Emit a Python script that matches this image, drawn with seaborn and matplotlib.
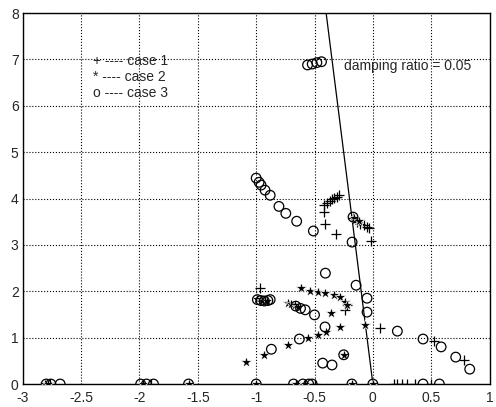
import numpy as np
import pandas as pd
import matplotlib
matplotlib.use('Agg')
import matplotlib.pyplot as plt
import seaborn as sns

# Case 1 (+) roots
case1_x = [-0.415, -0.39, -0.37, -0.35, -0.33, -0.31, -0.29,
           -0.42, -0.41, -0.32, -0.02,
           -0.17, -0.14, -0.11, -0.08, -0.05, -0.03,
           -0.97, -0.24, -0.22, 0.06, 0.52, 0.78,
           0.18, 0.21, 0.25, 0.29, 0.36, 0.50, 0.0, -0.5, -1.9, -2.77]
case1_y = [3.86, 3.90, 3.95, 3.98, 4.01, 4.04, 4.07,
           3.71, 3.45, 3.23, 3.08,
           3.57, 3.50, 3.46, 3.42, 3.39, 3.36,
           2.07, 1.59, 1.70, 1.21, 0.92, 0.52,
           0, 0, 0, 0, 0, 0, 0, 0, 0, 0]

# Case 2 (*) roots
case2_x = [-0.62, -0.54, -0.47, -0.41, -0.33, -0.28, -0.24, -0.22,
           -0.73, -0.70, -0.67, -0.64,
           -0.36, -0.28, -0.40, -0.47, -0.56, -0.73, -0.93, -1.09, -0.07, -0.25,
           -0.99, -0.95, -0.91, -0.16, -0.12,
           -2.81, -2.78, -1.97, -1.58, -1.0, -0.66, -0.58, -0.18, 0.0]
case2_y = [2.07, 2.00, 1.98, 1.96, 1.92, 1.87, 1.77, 1.70,
           1.75, 1.72, 1.70, 1.67,
           1.53, 1.23, 1.12, 1.06, 0.99, 0.84, 0.63, 0.47, 1.27, 0.63,
           1.83, 1.80, 1.80, 3.58, 3.52,
           0, 0, 0, 0, 0, 0, 0, 0, 0]

# Case 3 (o) roots
case3_x = [-1.0, -0.975, -0.958, -0.924, -0.88, -0.805, -0.746, -0.653, -0.51, -0.178,
           -0.407, -0.144, -0.05, -0.05, -0.5, -0.41, -0.87, -0.63, -0.43, -0.35, -0.25,
           0.21, 0.43, 0.585, 0.71, 0.83,
           -0.99, -0.96, -0.93, -0.90, -0.88,
           -0.66, -0.62, -0.58, -0.17,
           -0.56, -0.52, -0.48, -0.44,
           -2.8, -2.76, -2.68, -1.99, -1.94, -1.88, -1.58, -1.0,
           -0.68, -0.6, -0.55, -0.52, -0.18, 0.0, 0.43, 0.57]
case3_y = [4.44, 4.35, 4.29, 4.18, 4.07, 3.83, 3.68, 3.51, 3.30, 3.06,
           2.39, 2.13, 1.85, 1.55, 1.49, 1.23, 0.75, 0.97, 0.45, 0.41, 0.63,
           1.14, 0.97, 0.80, 0.58, 0.32,
           1.82, 1.80, 1.79, 1.80, 1.82,
           1.68, 1.63, 1.60, 3.60,
           6.88, 6.90, 6.93, 6.95,
           0, 0, 0, 0, 0, 0, 0, 0,
           0, 0, 0, 0, 0, 0, 0, 0]

damping_ratio = 0.05
x_ticks = [-3, -2.5, -2, -1.5, -1, -0.5, 0, 0.5, 1]
x_tick_labels = ['-3', '-2.5', '-2', '-1.5', '-1', '-0.5', '0', '0.5', '1']
y_ticks = [0, 1, 2, 3, 4, 5, 6, 7, 8]

sns.set_style('white')
plt.rcParams['font.family'] = ['Liberation Sans', 'DejaVu Sans']

fig = plt.figure(figsize=(4.96, 4.07), dpi=100)
ax = fig.add_axes([0.046, 0.0565, 0.941, 0.9115])

sns.scatterplot(x=case1_x, y=case1_y, marker='+', color='black', s=45,
                linewidth=0.9, ax=ax, zorder=3)
sns.scatterplot(x=case2_x, y=case2_y, marker='*', color='black', s=70,
                linewidth=0.5, ax=ax, zorder=3)
sns.scatterplot(x=case3_x, y=case3_y, marker='o', facecolor='none',
                edgecolor='black', s=48, linewidth=0.9, ax=ax, zorder=3)

# constant damping ratio line
wn = np.array([0, 10])
ax.plot(-damping_ratio * wn, np.sqrt(1 - damping_ratio ** 2) * wn,
        color='black', linewidth=0.9, zorder=2)

ax.text(-2.4, 6.97, '+ ---- case 1', fontsize=10, va='center')
ax.text(-2.4, 6.62, '* ---- case 2', fontsize=10, va='center')
ax.text(-2.4, 6.27, 'o ---- case 3', fontsize=10, va='center')
ax.text(-0.25, 6.85, 'damping ratio = 0.05', fontsize=10, va='center')

ax.set_xlim(-3, 1)
ax.set_ylim(0, 8)
ax.set_xticks(x_ticks)
ax.set_xticklabels(x_tick_labels)
ax.set_yticks(y_ticks)
ax.grid(True, linestyle=':', color='black', linewidth=0.8)
ax.tick_params(direction='in', length=4, labelsize=10, color='black')
ax.tick_params(axis='x', pad=5)
ax.tick_params(axis='y', pad=3)
for sp in ax.spines.values():
    sp.set_color('black')
    sp.set_linewidth(1.0)

plt.savefig('out.png', dpi=100)
